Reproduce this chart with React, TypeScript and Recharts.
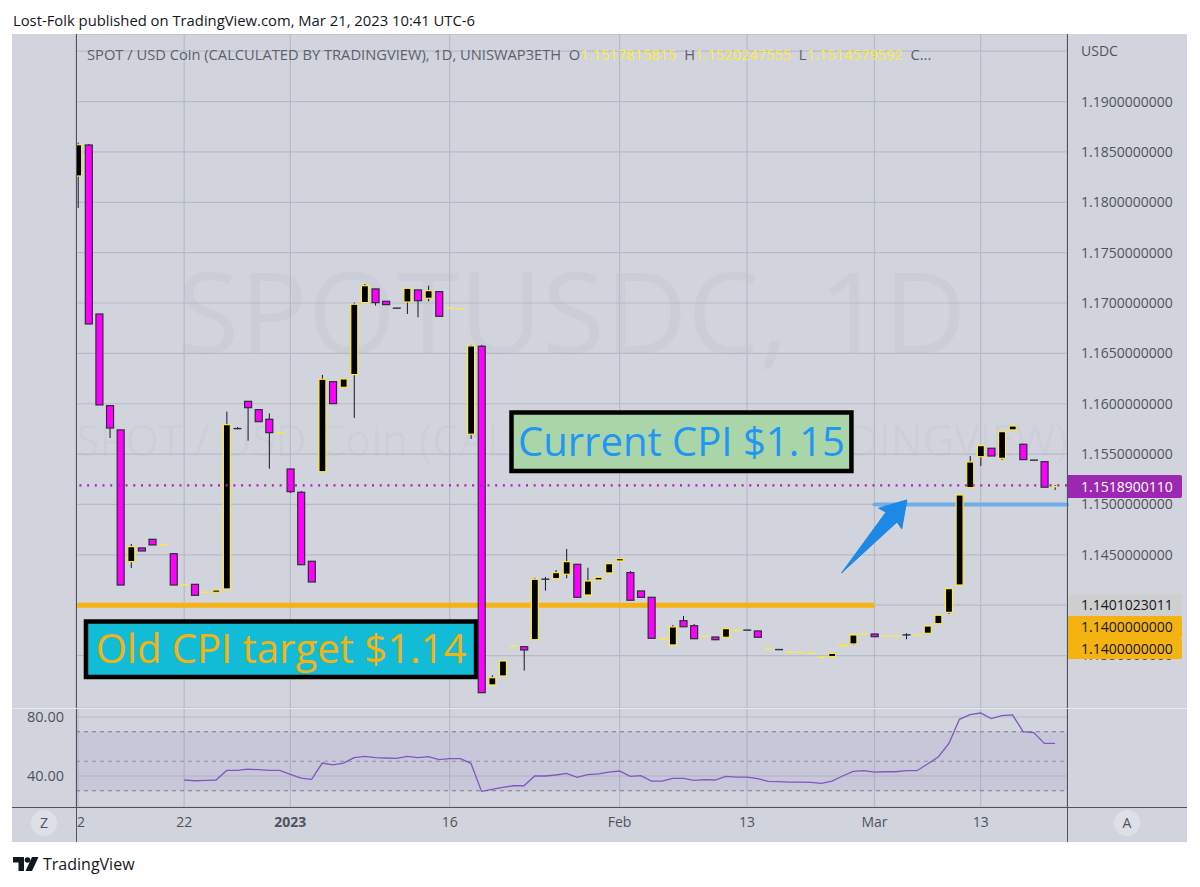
import React from "react";
import { ComposedChart, Bar, Line, XAxis, YAxis, CartesianGrid, ReferenceLine, ReferenceArea } from "recharts";

const opens = [1.18261,1.18569,1.16891,1.15981,1.15740,1.14432,1.14568,1.14654,1.14598,1.14511,
1.14203,1.14207,1.14128,1.14128,1.14161,1.15753,1.16024,1.15941,1.15846,1.15710,
1.15352,1.15121,1.14436,1.15325,1.16219,1.16163,1.16289,1.17004,1.17140,1.17017,
1.16949,1.17010,1.17130,1.17047,1.17113,1.16951,1.16941,1.15697,1.16571,1.13208,
1.13297,1.13592,1.13588,1.13657,1.14258,1.14263,1.14307,1.14406,1.14101,1.14250,
1.14320,1.14439,1.14323,1.14141,1.14078,1.13667,1.13605,1.13846,1.13796,1.13691,
1.13684,1.13681,1.13751,1.13752,1.13744,1.13565,1.13559,1.13532,1.13532,1.13522,
1.13483,1.13489,1.13595,1.13615,1.13714,1.13714,1.13694,1.13694,1.13705,1.13707,
1.13721,1.13816,1.13929,1.14200,1.15167,1.15474,1.15558,1.15458,1.15740,1.15598,
1.15440,1.15425,1.15177];
const closes = [1.18572,1.16792,1.15988,1.15759,1.14200,1.14581,1.14538,1.14598,1.14598,1.14200,
1.14203,1.14098,1.14128,1.14151,1.15792,1.15752,1.15961,1.15822,1.15713,1.15710,
1.15127,1.14402,1.14230,1.16243,1.16001,1.16246,1.16988,1.17172,1.17004,1.16984,
1.16948,1.17146,1.17023,1.17123,1.16868,1.16951,1.16941,1.16574,1.13131,1.13280,
1.13446,1.13592,1.13555,1.14257,1.14257,1.14323,1.14432,1.14078,1.14240,1.14277,
1.14412,1.14462,1.14049,1.14078,1.13671,1.13667,1.13784,1.13786,1.13667,1.13691,
1.13657,1.13767,1.13751,1.13751,1.13681,1.13565,1.13558,1.13532,1.13532,1.13522,
1.13483,1.13522,1.13605,1.13704,1.13714,1.13687,1.13694,1.13694,1.13704,1.13707,
1.13793,1.13900,1.14164,1.15094,1.15422,1.15584,1.15481,1.15723,1.15779,1.15445,
1.15439,1.15171,1.15177];
const highs = [1.18592,1.18579,1.16891,1.15981,1.15740,1.14608,1.14568,1.14654,1.14598,1.14511,
1.14203,1.14207,1.14128,1.14151,1.15921,1.15769,1.16024,1.15941,1.15905,1.15710,
1.15352,1.15134,1.14436,1.16286,1.16219,1.16246,1.17004,1.17189,1.17140,1.17017,
1.16949,1.17146,1.17130,1.17172,1.17113,1.16951,1.16941,1.16584,1.16584,1.13304,
1.13446,1.13592,1.13588,1.14270,1.14280,1.14349,1.14558,1.14406,1.14372,1.14277,
1.14412,1.14462,1.14339,1.14141,1.14078,1.13667,1.13803,1.13893,1.13813,1.13691,
1.13684,1.13767,1.13751,1.13752,1.13744,1.13565,1.13559,1.13532,1.13532,1.13522,
1.13483,1.13522,1.13605,1.13704,1.13714,1.13714,1.13694,1.13694,1.13721,1.13707,
1.13793,1.13900,1.14164,1.15094,1.15481,1.15584,1.15558,1.15723,1.15779,1.15598,
1.15440,1.15425,1.15193];
const lows = [1.17944,1.16792,1.15988,1.15660,1.14200,1.14369,1.14538,1.14598,1.14598,1.14200,
1.14203,1.14098,1.14128,1.14128,1.14161,1.15752,1.15633,1.15822,1.15355,1.15710,
1.15114,1.14402,1.14230,1.15325,1.16001,1.16157,1.15859,1.17004,1.16974,1.16984,
1.16948,1.16891,1.16859,1.17017,1.16868,1.16951,1.16941,1.15650,1.13131,1.13208,
1.13297,1.13592,1.13350,1.13657,1.14144,1.14263,1.14267,1.14078,1.14101,1.14250,
1.14320,1.14439,1.14049,1.14078,1.13671,1.13667,1.13605,1.13786,1.13667,1.13691,
1.13657,1.13681,1.13751,1.13751,1.13681,1.13565,1.13558,1.13532,1.13532,1.13522,
1.13483,1.13489,1.13595,1.13605,1.13714,1.13687,1.13694,1.13694,1.13661,1.13707,
1.13721,1.13816,1.13913,1.14200,1.15167,1.15382,1.15481,1.15442,1.15740,1.15445,
1.15439,1.15171,1.15144];
const rsiStartBar = 10;
const rsiValues = [37.3,36.8,37.1,37.3,43.8,43.8,44.7,44.3,43.8,43.8,
41.1,38.6,37.7,48.8,47.5,48.8,52.4,53.3,52.4,52.2,
52.0,53.3,52.4,53.1,51.1,51.8,51.8,48.6,29.6,31.0,
32.3,33.4,33.4,40.0,40.0,40.7,41.8,39.1,40.9,41.4,
42.7,43.4,39.8,40.2,36.6,36.6,38.4,38.4,37.1,37.5,
37.3,39.8,39.3,39.3,38.2,36.4,36.2,35.9,35.9,35.7,
35.0,36.6,40.0,43.2,43.6,42.7,42.9,42.9,43.6,43.6,
48.1,52.9,61.9,78.4,81.6,82.7,78.9,80.9,81.4,70.1,
69.4,62.1,62.1];

const priceTicks = [1.195,1.19,1.185,1.18,1.175,1.17,1.165,1.16,1.155,1.15,1.145,1.14,1.135];
const rsiTicks = [80,40];
const timeBars = [0,10,20,35,51,63,75,85];
const timeLabels = ["2","22","2023","16","Feb","13","Mar","13"];
const gridBars = [10,20,35,51,63,75,85];

const priceDomain = [1.12979,1.19671];
const rsiDomain = [19,86.1];
const barDomain = [-0.188,93.13];

const lastPrice = 1.15189;
const oldTarget = 1.14;
const currentTarget = 1.15;
const prevClose = 1.1401;

const tags = [
  { text: "1.1518900110", top: 475, h: 23, bg: "#9C27B0", color: "#ffffff" },
  { text: "1.1401023011", top: 594, h: 22, bg: "#CFCFCF", color: "#131722" },
  { text: "1.1400000000", top: 616, h: 22, bg: "#F5B312", color: "#131722" },
  { text: "1.1400000000", top: 638, h: 21, bg: "#F5B312", color: "#131722" },
];

const priceRows = opens.map((o, i) => ({ bar: i, open: o, close: closes[i], high: highs[i], low: lows[i], range: [lows[i], highs[i]] }));
const rsiRows = opens.map((_, i) => ({ bar: i, rsi: i >= rsiStartBar ? rsiValues[i - rsiStartBar] : null }));

const FONT = "'Open Sans', sans-serif";
const AXIS_TXT = "#50535E";
const GRID = "#B7BAC7";
const PANEL = "#D1D4DC";
const AXIS_LINE = "#50535E";

const Candle = (props: any) => {
  const { x, y, width, height, payload } = props;
  const cx = x + width / 2;
  const h = Math.abs(height);
  const y0 = height < 0 ? y + height : y;
  const span = payload.high - payload.low;
  const unit = span > 0 ? h / span : 0;
  const up = payload.close >= payload.open;
  const top = y0 + (payload.high - Math.max(payload.open, payload.close)) * unit;
  const bot = y0 + (payload.high - Math.min(payload.open, payload.close)) * unit;
  const bodyH = bot - top;
  const stroke = up ? "#FFEB3B" : "#2A2E39";
  const fill = up ? "#000000" : "#FF00FF";
  return (
    <g>
      {span > 0 && <line x1={cx} x2={cx} y1={y0} y2={y0 + h} stroke="#131722" strokeWidth={1} />}
      {bodyH < 1 ? (
        <line x1={cx - 4} x2={cx + 4} y1={top} y2={top} stroke={stroke} strokeWidth={1.4} />
      ) : (
        <rect x={cx - 3.5} y={top} width={7} height={bodyH} fill={fill} stroke={stroke} strokeWidth={1.2} />
      )}
    </g>
  );
};

const Arrow = (props: any) => {
  const { x1, y1, x2, y2 } = props;
  const dx = x2 - x1, dy = y2 - y1;
  const len = Math.hypot(dx, dy);
  const ux = dx / len, uy = dy / len, nx = -uy, ny = ux;
  const at = (a: number, s: number) => `${x2 - ux * a + nx * s},${y2 - uy * a + ny * s}`;
  const pts = [`${x1},${y1}`, at(23, -7.4), at(25, -15.5), `${x2},${y2}`, at(25, 15.5), at(23, 7.4)].join(" ");
  return <polygon points={pts} fill="#1E88E5" stroke="#1E88E5" strokeWidth={1} strokeLinejoin="round" />;
};

const TimeTick = (props: any) => {
  const { x, y, payload } = props;
  const i = timeBars.indexOf(payload.value);
  const label = timeLabels[i];
  const bold = label === "2023";
  return (
    <text x={label === "2" ? x + 3 : x} y={y + 12} textAnchor="middle" fontFamily={FONT} fontSize={14} fontWeight={bold ? 700 : 400} fill={AXIS_TXT}>
      {label}
    </text>
  );
};

const Legend = () => (
  <div style={{ position: "absolute", left: 87, top: 44, whiteSpace: "pre", font: `14.7px ${FONT}`, color: "#5D606B" }}>
    {"SPOT / USD Coin (CALCULATED BY TRADINGVIEW), 1D, UNISWAP3ETH  O"}
    <span style={{ color: "#FFEB3B" }}>1.1517815815</span>
    {"  H"}
    <span style={{ color: "#FFEB3B" }}>1.1520247555</span>
    {"  L"}
    <span style={{ color: "#FFEB3B" }}>1.1514579592</span>
    {"  C..."}
  </div>
);

const Z: any = { zIndex: 100 };

export default function App() {
  return (
    <div style={{ position: "absolute", left: 0, top: 0, width: 1200, height: 887, background: "#ffffff", overflow: "hidden", fontFamily: FONT }}>
      <div style={{ position: "absolute", left: 13, top: 10, font: `14.8px ${FONT}`, color: "#131722" }}>
        Lost-Folk published on TradingView.com, Mar 21, 2023 10:41 UTC-6
      </div>

      <div style={{ position: "absolute", left: 12, top: 34, width: 1175, height: 808, background: PANEL }} />

      <div style={{ position: "absolute", left: 76, width: 991, top: 232, textAlign: "center", font: `114px ${FONT}`, color: "rgba(80,83,100,0.045)", whiteSpace: "pre" }}>
        SPOTUSDC, 1D
      </div>
      <div style={{ position: "absolute", left: 76, width: 991, top: 410, textAlign: "center", font: `43px ${FONT}`, color: "rgba(80,83,100,0.045)", whiteSpace: "pre" }}>
        SPOT / USD Coin (CALCULATED BY TRADINGVIEW)
      </div>

      <div style={{ position: "absolute", left: 12, top: 34 }}>
        <ComposedChart width={1175} height={674} data={priceRows} margin={{ top: 0, right: 0, bottom: 0, left: 64 }}>
          <CartesianGrid stroke={GRID} strokeWidth={1.2} />
          <XAxis dataKey="bar" type="number" scale="linear" domain={barDomain} ticks={gridBars} allowDataOverflow hide />
          <YAxis
            orientation="right"
            width={120}
            type="number"
            domain={priceDomain}
            ticks={priceTicks}
            interval={0}
            allowDataOverflow
            axisLine={false}
            tickLine={false}
            tickMargin={14}
            tickSize={0}
            tick={{ fontFamily: FONT, fontSize: 14, fill: AXIS_TXT }}
            tickFormatter={(v: number) => (v > 1.19 ? "" : v.toFixed(10))}
          />
          <ReferenceArea x1={0.75} x2={37.48} y1={1.13288} y2={1.13838} fill="#12BCD6" fillOpacity={1} stroke="#000000" strokeWidth={4.5}
            label={{ value: "Old CPI target $1.14", position: "center", fill: "#F5B312", fontSize: 40, fontFamily: FONT }} />
          <ReferenceArea x1={40.82} x2={72.83} y1={1.15333} y2={1.15913} fill="#A9D5A9" fillOpacity={1} stroke="#000000" strokeWidth={4.5}
            label={{ value: "Current CPI $1.15", position: "center", fill: "#2196F3", fontSize: 40, fontFamily: FONT }} />
          <ReferenceLine {...Z} segment={[{ x: -0.188, y: oldTarget }, { x: 75, y: oldTarget }]} stroke="#F5B312" strokeWidth={5} />
          <ReferenceLine {...Z} segment={[{ x: 75, y: prevClose }, { x: 93.13, y: prevClose }]} stroke="#C9CACD" strokeWidth={1.5} strokeDasharray="4 3" />
          <ReferenceLine {...Z} segment={[{ x: 75, y: currentTarget }, { x: 93.13, y: currentTarget }]} stroke="#6EAEE8" strokeWidth={4} strokeLinecap="round" />
          <ReferenceLine y={lastPrice} stroke="#9C27B0" strokeWidth={2.2} strokeDasharray="2 5.7" />
          <Bar dataKey="range" barSize={7} shape={Candle} isAnimationActive={false} />
          <ReferenceLine segment={[{ x: 71.9, y: 1.1432 }, { x: 78.05, y: 1.15045 }]} shape={Arrow} />
        </ComposedChart>
      </div>

      <div style={{ position: "absolute", left: 12, top: 708 }}>
        <ComposedChart width={1175} height={134} data={rsiRows} margin={{ top: 0, right: 120, bottom: 0, left: 0 }}>
          <ReferenceArea y1={30} y2={70} fill="#7E57C2" fillOpacity={0.1} stroke="none" />
          <CartesianGrid stroke={GRID} strokeWidth={1.2} />
          <XAxis
            dataKey="bar"
            type="number"
            scale="linear"
            domain={barDomain}
            ticks={timeBars}
            interval={0}
            allowDataOverflow
            height={35}
            axisLine={false}
            tickLine={false}
            tick={TimeTick}
          />
          <YAxis
            width={64}
            type="number"
            domain={rsiDomain}
            ticks={rsiTicks}
            interval={0}
            allowDataOverflow
            axisLine={false}
            tickLine={false}
            tickMargin={12}
            tickSize={0}
            tick={{ fontFamily: FONT, fontSize: 14.5, fill: AXIS_TXT }}
            tickFormatter={(v: number) => v.toFixed(2)}
          />
          <ReferenceLine y={70} stroke="#787B86" strokeWidth={1} strokeDasharray="4 4" />
          <ReferenceLine y={50} stroke="#787B86" strokeOpacity={0.7} strokeWidth={1} strokeDasharray="4 4" />
          <ReferenceLine y={30} stroke="#787B86" strokeWidth={1} strokeDasharray="4 4" />
          <Line dataKey="rsi" stroke="#7E57C2" strokeWidth={1.3} dot={false} activeDot={false} connectNulls={false} isAnimationActive={false} />
        </ComposedChart>
      </div>

      {/* pane frame */}
      <div style={{ position: "absolute", left: 76, top: 34, width: 1, height: 808, background: AXIS_LINE }} />
      <div style={{ position: "absolute", left: 1067, top: 34, width: 1, height: 808, background: AXIS_LINE }} />
      <div style={{ position: "absolute", left: 12, top: 807, width: 1175, height: 1, background: AXIS_LINE }} />
      <div style={{ position: "absolute", left: 12, top: 708, width: 1175, height: 1, background: "#E6E8EE" }} />

      <Legend />
      <div style={{ position: "absolute", left: 1081, top: 41, font: `14px ${FONT}`, color: AXIS_TXT }}>USDC</div>

      {tags.map((t, i) => (
        <div key={i} style={{ position: "absolute", left: 1068, top: t.top, width: 114, height: t.h, background: t.bg, color: t.color, font: `14px/${t.h}px ${FONT}`, paddingLeft: 13, boxSizing: "border-box", borderRadius: "0 2px 2px 0" }}>
          {t.text}
        </div>
      ))}

      <div style={{ position: "absolute", left: 31, top: 810, width: 26, height: 26, borderRadius: 13, background: "#DEE0E7", textAlign: "center", font: `14px/26px ${FONT}`, color: AXIS_TXT }}>Z</div>
      <div style={{ position: "absolute", left: 1114, top: 810, width: 26, height: 26, borderRadius: 13, background: "#DEE0E7", textAlign: "center", font: `14px/26px ${FONT}`, color: AXIS_TXT }}>A</div>

      <svg style={{ position: "absolute", left: 13, top: 857 }} width={26} height={15} viewBox="0 0 26 15">
        <path d="M0 0H11V14H5.5V5.5H0Z" fill="#131722" />
        <circle cx="14.5" cy="3" r="2.8" fill="#131722" />
        <path d="M19 0H25.5L19 14H12.5Z" fill="#131722" />
      </svg>
      <div style={{ position: "absolute", left: 43, top: 853, font: `16px ${FONT}`, color: "#131722" }}>TradingView</div>
    </div>
  );
}
